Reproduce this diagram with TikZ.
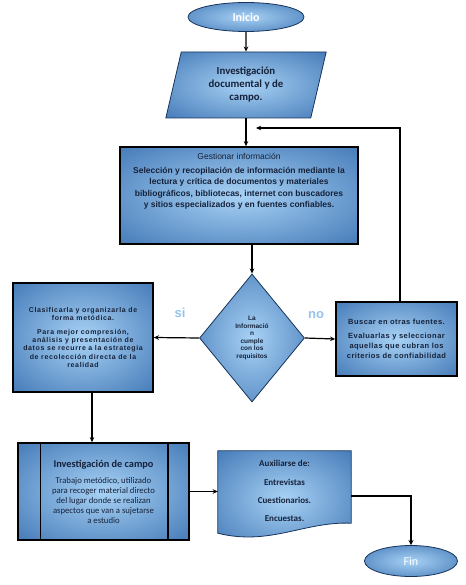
\documentclass[tikz,border=0pt]{standalone}
\usepackage{fontspec}
\setmainfont{Liberation Sans}
\newfontfamily\calibri{Carlito}
\usepackage{tikz}
\usetikzlibrary{
    arrows.meta,
    positioning,
    shapes.geometric,
    calc,
    backgrounds
}
\usepackage{xcolor}
\definecolor{shadein}{RGB}{168,210,245}
\definecolor{shadeout}{RGB}{30,88,160}
\definecolor{navytext}{RGB}{22,34,58}
\definecolor{edgeblue}{RGB}{22,52,92}
\definecolor{labelblue}{RGB}{150,195,235}
\pgfdeclareradialshading{boxglow}{\pgfpoint{0bp}{0bp}}{color(0bp)=(shadein); color(50bp)=(shadeout); color(75bp)=(shadeout)}

\begin{document}
\begin{tikzpicture}[
    x=1pt, y=-1pt,
    terminal/.style={ellipse, draw=edgeblue, line width=0.8pt, shading=boxglow, inner sep=0pt, font=\calibri},
    datain/.style={trapezium, trapezium left angle=77, trapezium right angle=103, trapezium stretches=true, draw=edgeblue, line width=0.8pt, shading=boxglow, minimum width=161pt, minimum height=66pt, align=center, text=navytext, font=\calibri\bfseries\fontsize{10.8}{13}\selectfont},
    procbox/.style={rectangle, draw=black, line width=1.6pt, shading=boxglow, align=center, text=navytext},
    decision/.style={diamond, draw=edgeblue, line width=0.8pt, shading=boxglow, inner sep=0pt, align=center, text=navytext, font=\bfseries\fontsize{6.5}{7.6}\selectfont},
    branch/.style={font=\bfseries\fontsize{13}{13}\selectfont, text=labelblue},
    arrow/.style={-{Stealth[length=1.8mm, width=1.6mm]}, line width=1.2pt},
    fatarrow/.style={-{Stealth[length=1.8mm, width=1.8mm]}, line width=2.4pt}
]
\useasboundingbox (0,0) rectangle (465,585);

% Start
\node[terminal, minimum width=116pt, minimum height=29pt, text=white, font=\calibri\bfseries\fontsize{12}{12}\selectfont] (inicio) at (246,17) {Inicio};

% Documentary research
\node[datain] (invdoc) at (246,85) {Investigación\\documental y de\\campo.};

% Manage information
\node[procbox, minimum width=238pt, minimum height=97pt] (gest) at (239,195.5) {};
\node[text=navytext, align=center, anchor=north, font=\fontsize{8.5}{11.5}\selectfont] (gesttxt) at ([yshift=-4pt]gest.north)
    {Gestionar información\\[2pt]
     \bfseries Selección y recopilación de información mediante la\\
     \bfseries lectura y crítica de documentos y materiales\\
     \bfseries bibliográficos, bibliotecas, internet con buscadores\\
     \bfseries y sitios especializados y en fuentes confiables.};

% Decision
\node[decision, minimum width=105pt, minimum height=128pt] (check) at (252,338) {La\\Informació\\n\\cumple\\con los\\requisitos};

% Yes branch
\node[procbox, minimum width=140pt, minimum height=109pt, font=\bfseries\fontsize{7}{8.4}\selectfont\addfontfeatures{LetterSpace=9}] (clas) at (83,337.5)
    {Clasificarla y organizarla de\\forma metódica.\\[5pt]
     Para mejor compresión,\\análisis y presentación de\\datos se recurre a la estrategia\\de recolección directa de la\\realidad};

% No branch
\node[procbox, minimum width=121pt, minimum height=74pt, font=\bfseries\fontsize{7.5}{10}\selectfont\addfontfeatures{LetterSpace=6}] (buscar) at (396.5,339)
    {Buscar en otras fuentes.\\[4pt]
     Evaluarlas y seleccionar\\aquellas que cubran los\\criterios de confiabilidad};

\node[branch] (si) at (180,313) {si};
\node[branch] (no) at (316,315) {no};

% Field research
\node[procbox, minimum width=171pt, minimum height=97pt, font=\calibri\fontsize{8.7}{10}\selectfont] (campo) at (103.5,491.5)
    {{\bfseries\fontsize{10.3}{11}\selectfont Investigación de campo}\\[6pt]
     Trabajo metódico, utilizado\\para recoger material directo\\del lugar donde se realizan\\aspectos que van a sujetarse\\a estudio};
\draw[line width=1.4pt] ([xshift=23pt]campo.north west) -- ([xshift=23pt]campo.south west);
\draw[line width=1.4pt] ([xshift=-22pt]campo.north east) -- ([xshift=-22pt]campo.south east);

% Document
\node[minimum width=133pt, minimum height=80pt, align=center, text=navytext, font=\calibri\bfseries\fontsize{9}{18.2}\selectfont] (doc) at (284.5,491)
    {Auxiliarse de:\\Entrevistas\\Cuestionarios.\\Encuestas.};
\begin{scope}[on background layer]
\path[draw=edgeblue, line width=0.8pt, shading=boxglow] (doc.north west) -- (doc.north east) -- ($(doc.south east)+(0,-8)$)
    .. controls ($(doc.south)+(20,-10)$) and ($(doc.south)+(-15,15)$) .. ($(doc.south west)+(0,2)$) -- cycle;
\end{scope}

% End
\node[terminal, minimum width=93pt, minimum height=31pt, text=white, font=\calibri\fontsize{12}{12}\selectfont] (fin) at (411,561) {Fin};

% Flow
\coordinate (loop) at (400,128);
\coordinate (loopend) at (256,128);
\draw[arrow] (inicio.south) -- (invdoc.north);
\draw[arrow] (invdoc.south) -- (invdoc.south |- gest.north);
\draw[arrow] (gest.south -| check.north) -- (check.north);
\draw[arrow] (check.west) -- (clas.east);
\draw[arrow] (check.east) -- (buscar.west);
\draw[arrow] (buscar.north -| loop) -- (loop) -- (loopend);
\draw[arrow] ([xshift=9pt]clas.south) -- ([xshift=9pt]clas.south |- campo.north);
\draw[arrow] (campo.east) -- (campo.east -| doc.west);
\draw[fatarrow] ([yshift=-5pt]doc.east) -| (fin.north);

\end{tikzpicture}
\end{document}
